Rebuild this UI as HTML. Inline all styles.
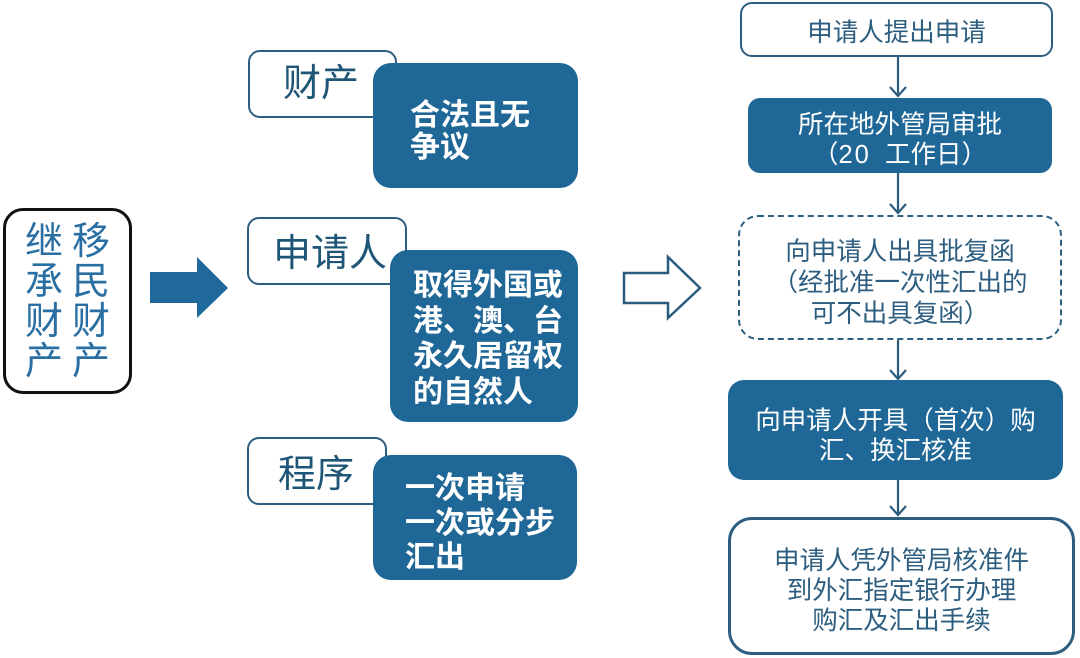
<!DOCTYPE html>
<html><head><meta charset="utf-8">
<style>
html,body{margin:0;padding:0;background:#fff;}
body{width:1080px;height:658px;position:relative;overflow:hidden;font-family:"Liberation Sans","Noto Sans CJK SC",sans-serif;}
.a{position:absolute;box-sizing:border-box;}
.dark{background:#1f6796;border-radius:18px;color:#fff;}
.lbl{background:#fff;border:2.5px solid #2d5e80;border-radius:12px;color:#1f5577;font-size:38px;line-height:38px;}
.wt{font-weight:bold;font-size:30px;white-space:nowrap;}
.rc{display:flex;align-items:center;justify-content:center;text-align:center;font-size:25.5px;white-space:nowrap;padding-top:9px;}
.ch{position:absolute;font-size:38px;line-height:40px;color:#2a6fa3;width:40px;text-align:center;}
</style></head><body>

<!-- left box -->
<div class="a" style="left:3px;top:208px;width:129px;height:186px;border:3px solid #111;border-radius:20px;"></div>
<div class="ch" style="left:24px;top:222px;">继<br>承<br>财<br>产</div>
<div class="ch" style="left:71px;top:222px;">移<br>民<br>财<br>产</div>

<svg class="a" style="left:0;top:0;" width="1080" height="658">
  <polygon points="150,272 197,272 197,257 228,288 197,318 197,303 150,303" fill="#1f6a9a"/>
  <polygon points="624,273 668,273 668,257 700,288 668,318 668,303 624,303" fill="#fff" stroke="#2b5b7d" stroke-width="2.5" stroke-linejoin="miter"/>
  <g stroke="#2b5b7d" stroke-width="2.2" fill="none">
    <line x1="898" y1="57" x2="898" y2="96"/>
    <polyline points="890,87 898,96 906,87"/>
    <line x1="898" y1="173" x2="898" y2="213"/>
    <polyline points="890,204 898,213 906,204"/>
    <line x1="898" y1="340" x2="898" y2="379"/>
    <polyline points="890,370 898,379 906,370"/>
    <line x1="898" y1="480" x2="898" y2="515"/>
    <polyline points="890,506 898,515 906,506"/>
  </g>
</svg>

<!-- middle column -->
<div class="a lbl" style="left:248px;top:50px;width:149px;height:68px;">
  <div class="a" style="left:33px;top:13px;">财产</div>
</div>
<div class="a dark" style="left:373px;top:63px;width:205px;height:125px;">
  <div class="a wt" style="left:37px;top:37px;line-height:32px;">合法且无<br>争议</div>
</div>

<div class="a lbl" style="left:247px;top:217px;width:160px;height:68px;">
  <div class="a" style="left:24px;top:16px;">申请人</div>
</div>
<div class="a dark" style="left:390px;top:250px;width:188px;height:172px;">
  <div class="a wt" style="left:23px;top:18px;line-height:35.7px;">取得外国或<br>港、澳、台<br>永久居留权<br>的自然人</div>
</div>

<div class="a lbl" style="left:247px;top:437px;width:140px;height:68px;">
  <div class="a" style="left:29px;top:17px;">程序</div>
</div>
<div class="a dark" style="left:373px;top:455px;width:204px;height:125px;">
  <div class="a wt" style="left:32px;top:17px;line-height:34.5px;">一次申请<br>一次或分步<br>汇出</div>
</div>

<!-- right column -->
<div class="a rc" style="left:740px;top:2px;width:313px;height:55px;border:2.5px solid #2d5e80;border-radius:12px;color:#2d5e80;line-height:30px;padding-top:7px;"><div>申请人提出申请</div></div>
<div class="a rc" style="left:748px;top:98px;width:304px;height:75px;background:#1f6796;border-radius:12px;color:#fff;line-height:30px;"><div>所在地外管局审批<br>（<span style="letter-spacing:2px">20</span>&nbsp;&nbsp;工作日）</div></div>
<div class="a rc" style="left:738px;top:215px;width:324px;height:125px;border:2.5px dashed #2d5e80;border-radius:20px;color:#2d5e80;line-height:31px;padding-top:12px;"><div>向申请人出具批复函<br>（经批准一次性汇出的<br>可不出具复函）</div></div>
<div class="a rc" style="left:728px;top:380px;width:335px;height:100px;background:#1f6796;border-radius:16px;color:#fff;line-height:30px;padding-top:12px;"><div>向申请人开具（首次）购<br>汇、换汇核准</div></div>
<div class="a rc" style="left:728px;top:517px;width:347px;height:138px;border:3px solid #2d5e80;border-radius:24px;color:#2d5e80;line-height:30px;padding-top:10px;"><div>申请人凭外管局核准件<br>到外汇指定银行办理<br>购汇及汇出手续</div></div>

</body></html>
